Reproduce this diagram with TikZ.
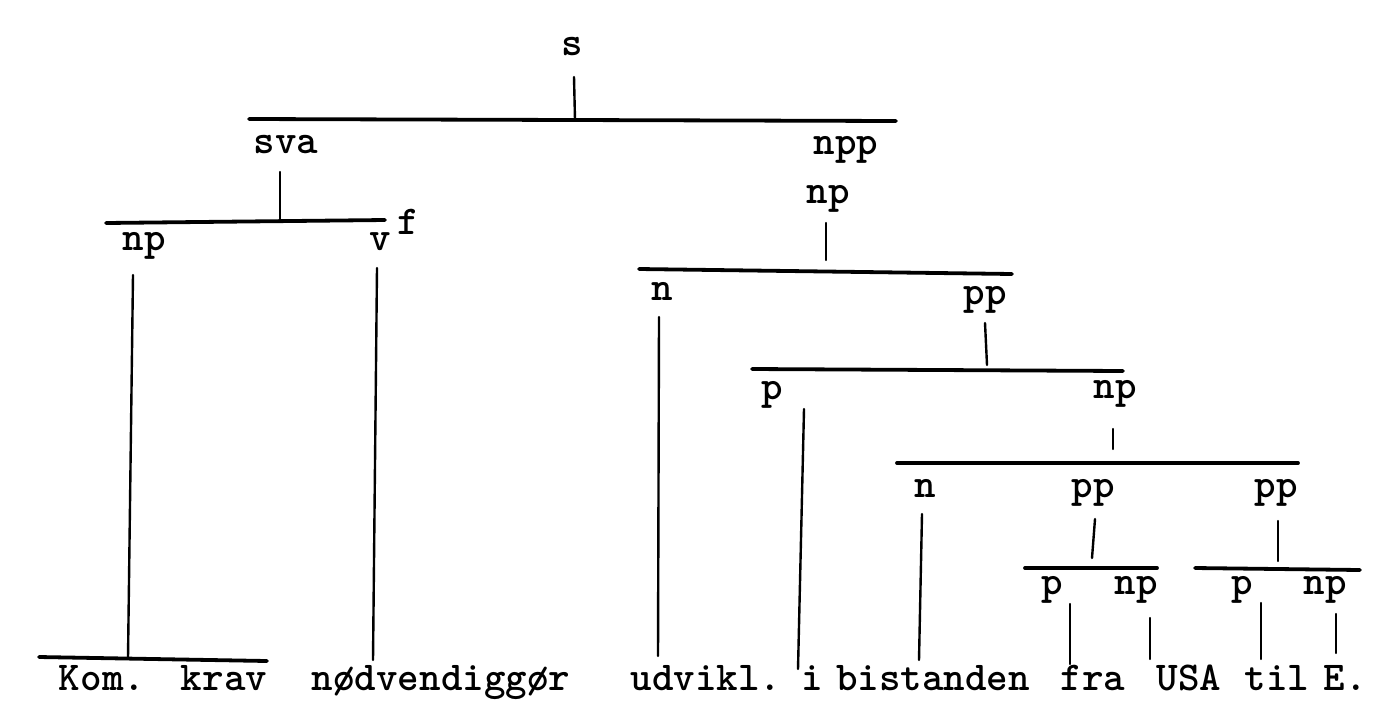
\documentclass[tikz,border=0pt]{standalone}
\usepackage{fontspec}
\begin{document}
\begin{tikzpicture}[x=1pt,y=-1pt,
  lbl/.style={anchor=base,inner sep=0pt,font=\ttfamily\bfseries\fontsize{41}{44}\selectfont},
  bar/.style={line width=3.8pt,line cap=round},
  stem/.style={line width=2.4pt,line cap=round}]
\useasboundingbox (0,0) rectangle (1396,713);
% labels
\node[lbl] (s) at (572,55) {s};
\node[lbl] (sva) at (286,153) {sva};
\node[lbl] (npp) at (846,154) {npp};
\node[lbl] (np0) at (828,203) {np};
\node[lbl] (np1) at (144,250) {np};
\node[lbl] (v) at (380,250) {v};
\node[lbl] (f) at (408,234) {f};
\node[lbl] (n1) at (662,300) {n};
\node[lbl] (pp1) at (985,304) {pp};
\node[lbl] (p1) at (772,399) {p};
\node[lbl] (np2) at (1115,398) {np};
\node[lbl] (n2) at (925,497) {n};
\node[lbl] (pp2) at (1093,497) {pp};
\node[lbl] (pp3) at (1276,497) {pp};
\node[lbl] (p2) at (1052,594) {p};
\node[lbl] (np3) at (1136,594) {np};
\node[lbl] (p3) at (1242,594) {p};
\node[lbl] (np4) at (1325,594) {np};
% words
\node[lbl] (w1) at (102,690) {Kom.};
\node[lbl] (w2) at (224,690) {krav};
\node[lbl] (w3) at (441,690) {nødvendiggør};
\node[lbl] (w4) at (706,690) {udvikl.};
\node[lbl] (w5) at (812,690) {i};
\node[lbl] (w6) at (933,690) {bistanden};
\node[lbl] (w7) at (1093,690) {fra};
\node[lbl] (w8) at (1189,690) {USA};
\node[lbl] (w9) at (1277,690) {til};
\node[lbl] (w10) at (1345,690) {E.};
% bar end points
\coordinate (b1l) at (249,119); \coordinate (b1r) at (896,121); \coordinate (b1m) at (575,120);
\coordinate (b2l) at (106,223); \coordinate (b2r) at (385,220); \coordinate (b2m) at (280,221);
\coordinate (b3l) at (639,269); \coordinate (b3r) at (1012,274); \coordinate (b3m) at (826,271);
\coordinate (b4l) at (752,369); \coordinate (b4r) at (1123,371); \coordinate (b4m) at (986,370);
\coordinate (b5l) at (897,463); \coordinate (b5r) at (1298,463); \coordinate (b5m) at (1113,463);
\coordinate (b6l) at (1025,568); \coordinate (b6r) at (1157,568); \coordinate (b6m) at (1092,568);
\coordinate (b7l) at (1195,568); \coordinate (b7r) at (1360,570); \coordinate (b7m) at (1278,569);
\coordinate (bkl) at (39,657); \coordinate (bkr) at (267,661); \coordinate (bkm) at (128,658);
% stem ends
\coordinate (t-s) at (574,77);
\coordinate (t-sva) at (280,172);
\coordinate (t-np0) at (826,223); \coordinate (e-np0) at (826,260);
\coordinate (t-pp1) at (985,323); \coordinate (e-pp1) at (987,365);
\coordinate (t-np2) at (1113,429); \coordinate (e-np2) at (1113,449);
\coordinate (t-pp2) at (1095,519); \coordinate (e-pp2) at (1092,558);
\coordinate (t-pp3) at (1278,521); \coordinate (e-pp3) at (1278,561);
\coordinate (t-np1) at (133,275);
\coordinate (t-v) at (377,268); \coordinate (e-v) at (373,660);
\coordinate (t-n1) at (659,317); \coordinate (e-n1) at (658,656);
\coordinate (t-p1) at (804,409); \coordinate (e-p1) at (798,669);
\coordinate (t-n2) at (922,514); \coordinate (e-n2) at (919,660);
\coordinate (t-p2) at (1070,604); \coordinate (e-p2) at (1070,664);
\coordinate (t-np3) at (1150,618); \coordinate (e-np3) at (1150,659);
\coordinate (t-p3) at (1261,603); \coordinate (e-p3) at (1261,659);
\coordinate (t-np4) at (1336,614); \coordinate (e-np4) at (1336,653);
% bars
\foreach \b in {b1,b2,b3,b4,b5,b6,b7,bk} \draw[bar] (\b l) -- (\b r);
% stems
\draw[stem] (t-s) -- (b1m);
\draw[stem] (t-sva) -- (b2m);
\draw[stem] (t-np0) -- (e-np0);
\draw[stem] (t-pp1) -- (e-pp1);
\draw[stem] (t-np2) -- (e-np2);
\draw[stem] (t-pp2) -- (e-pp2);
\draw[stem] (t-pp3) -- (e-pp3);
\draw[stem] (t-np1) -- (bkm);
\draw[stem] (t-v) -- (e-v);
\draw[stem] (t-n1) -- (e-n1);
\draw[stem] (t-p1) -- (e-p1);
\draw[stem] (t-n2) -- (e-n2);
\draw[stem] (t-p2) -- (e-p2);
\draw[stem] (t-np3) -- (e-np3);
\draw[stem] (t-p3) -- (e-p3);
\draw[stem] (t-np4) -- (e-np4);
\end{tikzpicture}
\end{document}
